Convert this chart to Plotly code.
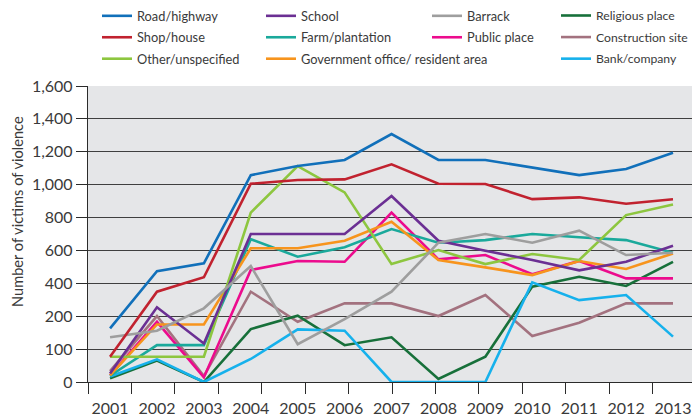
import plotly.graph_objects as go

years = [2001, 2002, 2003, 2004, 2005, 2006, 2007, 2008, 2009, 2010, 2011, 2012, 2013]

road_highway = [163, 474, 522, 1058, 1114, 1150, 1308, 1150, 1150, 1105, 1058, 1095, 1194]
shop_house = [77, 349, 437, 1006, 1028, 1032, 1124, 1006, 1004, 912, 923, 884, 911]
other_unspecified = [77, 77, 77, 830, 1113, 953, 517, 602, 517, 578, 542, 815, 880]
school = [26, 254, 117, 700, 700, 700, 931, 659, 598, 542, 479, 531, 629]
farm_plantation = [19, 112, 112, 668, 562, 619, 730, 647, 663, 700, 680, 663, 586]
government_office = [20, 175, 175, 613, 613, 659, 774, 542, 497, 450, 536, 487, 582]
public_place = [20, 183, 14, 481, 536, 531, 830, 546, 572, 455, 536, 430, 430]
barrack = [136, 156, 248, 505, 115, 191, 349, 647, 700, 647, 720, 572, 586]
construction_site = [33, 201, 18, 349, 183, 278, 278, 201, 329, 140, 180, 278, 278]
religious_place = [11, 65, 0, 161, 203, 112, 136, 9, 77, 380, 440, 384, 531]
bank_company = [17, 69, 0, 70, 160, 156, 0, 0, 0, 406, 298, 329, 138]

y_tick_values = [0, 100, 200, 400, 600, 800, 1000, 1200, 1400, 1600]
y_tick_labels = ["0", "100", "200", "400", "600", "800", "1,000", "1,200", "1,400", "1,600"]


def axis_pos(v):
    # the source axis is piecewise: 0-200 in steps of 100, then steps of 200
    return v / 100 if v <= 200 else 2 + (v - 200) / 200


FONT = "Lato"
TXT = "#3a3a3a"
AXC = "#2b2b2b"

# figure is drawn with an 8px page offset, so sizes are reduced to fit the window
W, H = 692, 409
PL, PT, PR, PB = 80, 78, 688, 374  # plot area in figure pixels
PW, PH = PR - PL, PB - PT

series = [
    # name, data, color, legend column
    ("Construction site", construction_site, "#a3727f", "legend4"),
    ("Religious place", religious_place, "#17703a", "legend4"),
    ("Bank/company", bank_company, "#16b1ec", "legend4"),
    ("Public place", public_place, "#ec0b8d", "legend3"),
    ("Farm/plantation", farm_plantation, "#1aa99b", "legend2"),
    ("Government office/ resident area", government_office, "#f7941d", "legend2"),
    ("Other/unspecified", other_unspecified, "#8dc63f", "legend"),
    ("School", school, "#6b2f93", "legend2"),
    ("Barrack", barrack, "#9e9e9e", "legend3"),
    ("Shop/house", shop_house, "#c1222f", "legend"),
    ("Road/highway", road_highway, "#1170ba", "legend"),
]
rank = {
    "Road/highway": 1, "Shop/house": 2, "Other/unspecified": 3,
    "School": 1, "Farm/plantation": 2, "Government office/ resident area": 3,
    "Barrack": 1, "Public place": 2,
    "Religious place": 1, "Construction site": 2, "Bank/company": 3,
}

fig = go.Figure()
for name, vals, color, leg in series:
    fig.add_trace(go.Scatter(
        x=years, y=[axis_pos(v) for v in vals], name=name, mode="lines",
        line=dict(color=color, width=2.6), legend=leg, legendrank=rank[name],
        legendgroup=name,
        customdata=vals, hovertemplate="%{x}: %{customdata}<extra>" + name + "</extra>",
    ))

# invisible trace so the secondary x axis (boundary ticks) is drawn
fig.add_trace(go.Scatter(x=[0, 14], y=[0, 0], xaxis="x2", yaxis="y", mode="lines",
                         line=dict(width=0, color="rgba(0,0,0,0)"),
                         showlegend=False, hoverinfo="skip"))

legend_left = [89, 253, 419, 548]  # figure px of legend boxes
legend_size = [12.8, 12.8, 12.8, 12.2]
legend_top = -7                    # figure px

layout_legends = {}
for i, key in enumerate(["legend", "legend2", "legend3", "legend4"]):
    layout_legends[key] = dict(
        orientation="v", xref="paper", yref="paper",
        x=(legend_left[i] - PL) / PW, y=1 + (PT - legend_top) / PH,
        xanchor="left", yanchor="top", bgcolor="rgba(0,0,0,0)",
        font=dict(family=FONT, size=legend_size[i], color=TXT),
        traceorder="grouped", itemwidth=30,
        tracegroupgap=1.8 + (12.8 - legend_size[i]) * 1.3)

fig.update_layout(
    width=W, height=H,
    margin=dict(l=PL, r=W - PR, t=PT, b=H - PB, autoexpand=False),
    paper_bgcolor="white", plot_bgcolor="#e5e6e8",
    font=dict(family=FONT, color=TXT),
    showlegend=True,
    xaxis=dict(range=[2000.53, 2013.49], tickvals=years, ticktext=[str(y) for y in years],
               ticks="outside", ticklen=12, tickcolor="rgba(0,0,0,0)",
               tickfont=dict(family=FONT, size=16, color=TXT),
               showgrid=False, zeroline=False, showline=False, automargin=False),
    xaxis2=dict(range=[0, 14], overlaying="x", anchor="y", side="bottom",
                tickvals=list(range(15)),
                showticklabels=False, ticks="outside", ticklen=11, tickwidth=1.3,
                tickcolor=AXC, showgrid=False, zeroline=False,
                showline=True, linecolor=AXC, linewidth=1.3, automargin=False),
    yaxis=dict(range=[0, 9], tickvals=[axis_pos(v) for v in y_tick_values], ticktext=y_tick_labels,
               ticks="outside", ticklen=11, tickwidth=1.3, tickcolor=AXC,
               tickfont=dict(family=FONT, size=16, color=TXT),
               showgrid=True, gridcolor="#3f3f3f", gridwidth=1.3,
               showline=True, linecolor=AXC, linewidth=1.3, mirror=True,
               zeroline=False, automargin=False),
    annotations=[dict(text="Number of victims of violence", xref="paper", yref="paper",
                      x=(9 - PL) / PW, y=(PB - 204) / PH, textangle=-90,
                      showarrow=False, font=dict(family=FONT, size=14.6, color=TXT),
                      xanchor="center", yanchor="middle")],
    **layout_legends,
)

fig.write_html("out.html")
